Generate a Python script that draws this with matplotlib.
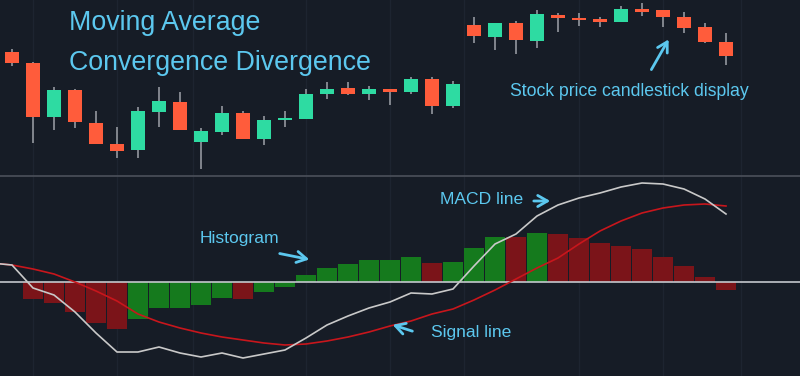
import matplotlib
matplotlib.use("Agg")
import matplotlib.pyplot as plt
import numpy as np

# candle data (35 sessions), price in arbitrary units
opens = [148.3, 136.7, 83.3, 109.7, 77.3, 56.0, 50.0, 88.0, 98.3, 57.7,
         68.3, 87.3, 61.3, 80.0, 81.3, 106.0, 112.0, 106.0, 110.7, 107.7,
         121.0, 94.0, 174.7, 163.3, 176.7, 159.3, 185.0, 181.7, 180.7, 178.3,
         191.0, 190.0, 182.7, 172.7, 158.3]
closes = [136.7, 83.3, 109.7, 77.7, 56.0, 49.3, 89.0, 99.3, 70.0, 69.3,
          87.3, 61.3, 80.0, 82.3, 106.0, 111.3, 106.0, 110.7, 107.7, 121.0,
          94.0, 115.7, 164.3, 176.7, 160.0, 185.7, 182.3, 180.0, 178.3, 191.0,
          188.3, 183.3, 171.7, 158.3, 144.0]
highs = [150.7, 138.3, 112.7, 111.3, 89.0, 73.3, 93.3, 112.7, 107.7, 72.3,
         94.0, 89.0, 84.0, 89.3, 111.3, 118.0, 118.0, 114.0, 110.7, 123.3,
         123.3, 119.0, 183.3, 176.7, 179.3, 190.0, 186.7, 186.7, 183.3, 194.0,
         197.3, 190.0, 188.3, 177.3, 166.7]
lows = [134.3, 57.3, 70.0, 72.3, 56.0, 41.7, 41.7, 73.3, 70.0, 31.0,
        65.0, 61.3, 55.0, 73.3, 81.3, 100.7, 105.3, 100.0, 94.7, 106.0,
        86.0, 92.3, 156.7, 150.0, 145.7, 151.7, 168.3, 174.0, 173.3, 178.3,
        184.3, 173.3, 167.3, 156.7, 135.0]

# MACD panel (index -1 .. 34)
macd = [0.19, 0.17, -0.06, -0.13, -0.30, -0.51, -0.70, -0.70, -0.65, -0.71,
        -0.75, -0.71, -0.76, -0.72, -0.68, -0.56, -0.43, -0.34, -0.26, -0.20,
        -0.11, -0.12, -0.07, 0.16, 0.38, 0.48, 0.66, 0.77, 0.84, 0.89,
        0.95, 0.99, 0.98, 0.93, 0.83, 0.68]
signal = [0.19, 0.17, 0.13, 0.08, 0.00, -0.09, -0.19, -0.32, -0.40, -0.46,
          -0.51, -0.55, -0.58, -0.61, -0.63, -0.62, -0.59, -0.55, -0.50, -0.44,
          -0.39, -0.32, -0.27, -0.18, -0.08, 0.03, 0.14, 0.24, 0.38, 0.51,
          0.61, 0.69, 0.74, 0.77, 0.78, 0.76]
hist = [-0.17, -0.21, -0.30, -0.41, -0.47, -0.37, -0.26, -0.26, -0.23, -0.16,
        -0.17, -0.10, -0.05, 0.07, 0.14, 0.18, 0.22, 0.22, 0.25, 0.19,
        0.20, 0.34, 0.45, 0.45, 0.49, 0.48, 0.44, 0.39, 0.36, 0.33,
        0.25, 0.16, 0.05, -0.08]
hist_up = [0, 0, 0, 0, 0, 1, 1, 1, 1, 1,
           0, 1, 1, 1, 1, 1, 1, 1, 1, 0,
           1, 1, 1, 0, 1, 0, 0, 0, 0, 0,
           0, 0, 0, 0]

tick_pos = [1.0, 5.0, 8.6, 14.0, 18.0, 21.5, 27.0, 31.0, 34.7]
tick_labels = ["10:00", "14:00", "6/22", "10:00", "14:00", "6/23", "10:00", "14:00", "6/24"]

BG = "#161c26"
GRID = "#1d2430"
UP = "#2edba2"
DOWN = "#ff5c3b"
WICK = "#8a8e95"
HUP = "#157a1d"
HDOWN = "#7b1419"
ANN = "#5cc8ef"

fig = plt.figure(figsize=(8, 3.76), dpi=100, facecolor=BG)
ax1 = fig.add_axes([0, 1 - 176 / 376, 1, 176 / 376])
ax2 = fig.add_axes([0, 0, 1, 200 / 376])
xlim = (-12 / 21, (800 - 12) / 21)

for ax in (ax1, ax2):
    ax.set_facecolor(BG)
    ax.set_xlim(*xlim)
    for s in ax.spines.values():
        s.set_visible(False)
    ax.set_xticks([])
    ax.set_yticks([])
    for t in tick_pos:
        ax.axvline(t, color=GRID, lw=1, zorder=0)

# candles
ax1.set_ylim(24, 200)
n = len(opens)
for i in range(n):
    up = closes[i] >= opens[i]
    ax1.vlines(i, lows[i], highs[i], color=WICK, lw=1.3, zorder=1)
    lo, hi = min(opens[i], closes[i]), max(opens[i], closes[i])
    ax1.bar(i, max(hi - lo, 1.5), bottom=lo, width=0.68,
            color=UP if up else DOWN, zorder=2)

# separator
fig.add_artist(plt.Line2D([0, 1], [1 - 176 / 376] * 2, color="#4b505a", lw=1.2))

# macd panel
ax2.set_ylim(-0.94, 1.06)
hx = np.arange(1, len(hist) + 1)
ax2.bar(hx, hist, width=0.95, color=[HUP if u else HDOWN for u in hist_up], zorder=2)
ax2.axhline(0, color="#c4c7cc", lw=1.2, zorder=3)
lx = np.arange(-1, len(macd) - 1)
ax2.plot(lx, signal, color="#c8161c", lw=1.2, zorder=4)
ax2.plot(lx, macd, color="#c9c9c9", lw=1.2, zorder=5)

# time labels, cut by the bottom edge as in the screenshot
for t, lab in zip(tick_pos, tick_labels):
    ax2.text(t, -0.985, lab, ha="center", va="top", color="#7d828a",
             fontsize=8, clip_on=False)

# annotations
font = "Liberation Sans"
fig.text(69 / 800, 1 - 30 / 376, "Moving Average", ha="left", va="baseline",
         color=ANN, fontsize=19.3, family=font)
fig.text(69 / 800, 1 - 70 / 376, "Convergence Divergence", ha="left",
         va="baseline", color=ANN, fontsize=19.3, family=font)
fig.text(510 / 800, 1 - 92 / 376, "Stock price candlestick display",
         ha="left", va="center", color=ANN, fontsize=12.7, family=font)
fig.text(440 / 800, 1 - 199 / 376, "MACD line",
         ha="left", va="center", color=ANN, fontsize=12.6, family=font)
fig.text(200 / 800, 1 - 238 / 376, "Histogram",
         ha="left", va="center", color=ANN, fontsize=12.6, family=font)
fig.text(431 / 800, 1 - 333 / 376, "Signal line",
         ha="left", va="center", color=ANN, fontsize=12.6, family=font)

arrows = [((650, 72), (670, 37)), ((531, 201), (553, 201)),
          ((277, 253), (312, 260)), ((415, 332), (390, 324))]
for (x0, y0), (x1, y1) in arrows:
    fig.add_artist(matplotlib.patches.FancyArrowPatch(
        (x0 / 800, 1 - y0 / 376), (x1 / 800, 1 - y1 / 376),
        transform=fig.transFigure, arrowstyle="->,head_length=7,head_width=4",
        color=ANN, lw=2, mutation_scale=1, capstyle="round", joinstyle="round"))

fig.savefig("out.png", dpi=100, facecolor=BG)
